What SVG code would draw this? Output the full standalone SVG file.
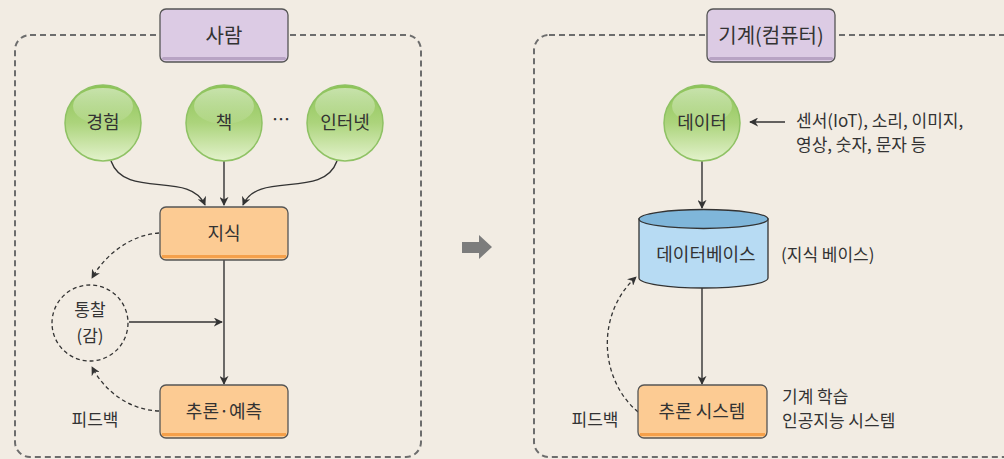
<svg xmlns="http://www.w3.org/2000/svg" width="1004" height="459" viewBox="0 0 1004 459">
<style>
text{font-family:"Noto Sans CJK KR","Noto Sans",sans-serif;fill:#333;}
.t{font-size:18px;text-anchor:middle;}
.tt{font-size:20px;text-anchor:middle;}
.lb{font-size:17px;}
.frame{fill:none;stroke:#6d6d6d;stroke-width:2;stroke-dasharray:6 4;}
.title{fill:#dccbe4;stroke:#555;stroke-width:1.3;}
.ball{fill:url(#g);stroke:#8fc264;stroke-width:1.5;}
.box{fill:#fccb93;stroke:#555;stroke-width:1.3;}
.line{fill:none;stroke:#333;stroke-width:1.4;marker-end:url(#ah);}
.dash{fill:none;stroke:#333;stroke-width:1.3;stroke-dasharray:4 3;marker-end:url(#ah);}
</style>
<defs>
<linearGradient id="g" x1="0" y1="0" x2="0" y2="1">
<stop offset="0" stop-color="#8dc455"/>
<stop offset="0.5" stop-color="#acd47c"/>
<stop offset="1" stop-color="#e3f2cc"/>
</linearGradient>
<linearGradient id="hl" x1="0" y1="0" x2="0" y2="1">
<stop offset="0" stop-color="#fff" stop-opacity="0.5"/>
<stop offset="1" stop-color="#fff" stop-opacity="0.05"/>
</linearGradient>
<marker id="ah" viewBox="0 0 10 10" refX="9" refY="5" markerWidth="9" markerHeight="9" markerUnits="userSpaceOnUse" orient="auto">
<path d="M0,0 L10,5 L0,10 L3,5 Z" fill="#333"/>
</marker>
</defs>
<rect width="1004" height="459" fill="#f2ece3"/>

<rect class="frame" x="15" y="35" width="406" height="422" rx="15"/>
<rect class="frame" x="534" y="35" width="490" height="422" rx="15"/>

<g id="connectors">
<path class="line" d="M111,161 C125,200 190,170 205,205"/>
<path class="line" d="M224,161 L224,205"/>
<path class="line" d="M337,161 C323,200 258,170 243,205"/>
<path class="line" d="M224,260 L224,384"/>
<path class="line" d="M129,322 L222,322"/>
<path class="dash" d="M159,233 C130,235 105,255 92,278"/>
<path class="dash" d="M159,411 C130,410 105,392 92,367"/>
<path class="line" d="M785,122 L750,122"/>
<path class="line" d="M702,161 L702,208"/>
<path class="line" d="M702,288 L702,384"/>
<path class="dash" d="M638,412 C600,380 595,315 636,277"/>
</g>

<g id="arrow-mid">
<path d="M462,242 H479 V235 L492,247 L479,259 V253 H462 Z" fill="#7c7c7c"/>
</g>

<g id="title-human">
<rect class="title" x="160" y="9" width="128" height="53" rx="6"/>
<rect x="162" y="57" width="124" height="3" rx="1.5" fill="#b8a3c4"/>
<text class="tt" x="224" y="43">사람</text>
</g>
<g id="title-machine">
<rect class="title" x="707" y="9" width="128" height="53" rx="6"/>
<rect x="709" y="57" width="124" height="3" rx="1.5" fill="#b8a3c4"/>
<text class="tt" x="771" y="43">기계(컴퓨터)</text>
</g>

<g id="node-exp">
<circle class="ball" cx="103" cy="123" r="38"/>
<ellipse cx="103" cy="106" rx="30" ry="18" fill="url(#hl)"/>
<text class="t" x="103" y="129">경험</text>
</g>
<g id="node-book">
<circle class="ball" cx="224" cy="123" r="38"/>
<ellipse cx="224" cy="106" rx="30" ry="18" fill="url(#hl)"/>
<text class="t" x="224" y="129">책</text>
</g>
<text class="t" x="281" y="126">…</text>
<g id="node-internet">
<circle class="ball" cx="345" cy="123" r="38"/>
<ellipse cx="345" cy="106" rx="30" ry="18" fill="url(#hl)"/>
<text class="t" x="345" y="129">인터넷</text>
</g>

<g id="node-knowledge">
<rect class="box" x="160" y="207" width="128" height="53" rx="6"/>
<rect x="162" y="255" width="124" height="3" fill="#f5a04a"/>
<text class="t" x="224" y="240">지식</text>
</g>
<g id="node-insight">
<circle cx="90" cy="323" r="38" fill="none" stroke="#333" stroke-width="1.3" stroke-dasharray="4 3"/>
<text class="lb" x="90" y="316" text-anchor="middle">통찰</text>
<text class="lb" x="90" y="342" text-anchor="middle">(감)</text>
</g>
<g id="node-infer">
<rect class="box" x="160" y="385" width="128" height="53" rx="6"/>
<rect x="162" y="433" width="124" height="3" fill="#f5a04a"/>
<text class="t" x="224" y="418">추론·예측</text>
</g>
<text class="lb" x="95" y="426" text-anchor="middle">피드백</text>

<g id="node-data">
<circle class="ball" cx="702" cy="123" r="38"/>
<ellipse cx="702" cy="106" rx="30" ry="18" fill="url(#hl)"/>
<text class="t" x="702" y="129">데이터</text>
</g>
<text class="lb" x="796" y="127">센서(IoT), 소리, 이미지,</text>
<text class="lb" x="796" y="151">영상, 숫자, 문자 등</text>

<g id="node-db">
<path d="M639,219 V278 A64.5,10 0 0 0 768,278 V219 Z" fill="#b7dbf3" stroke="#333" stroke-width="1.3"/>
<ellipse cx="703.5" cy="219" rx="64.5" ry="9.5" fill="#7fb6da" stroke="#333" stroke-width="1.3"/>
<text class="t" x="706" y="261">데이터베이스</text>
</g>
<text class="lb" x="781" y="261">(지식 베이스)</text>

<g id="node-system">
<rect class="box" x="638" y="385" width="129" height="53" rx="6"/>
<rect x="640" y="433" width="125" height="3" fill="#f5a04a"/>
<text class="t" x="702" y="418">추론 시스템</text>
</g>
<text class="lb" x="782" y="403">기계 학습</text>
<text class="lb" x="782" y="427">인공지능 시스템</text>
<text class="lb" x="595" y="426" text-anchor="middle">피드백</text>
</svg>
